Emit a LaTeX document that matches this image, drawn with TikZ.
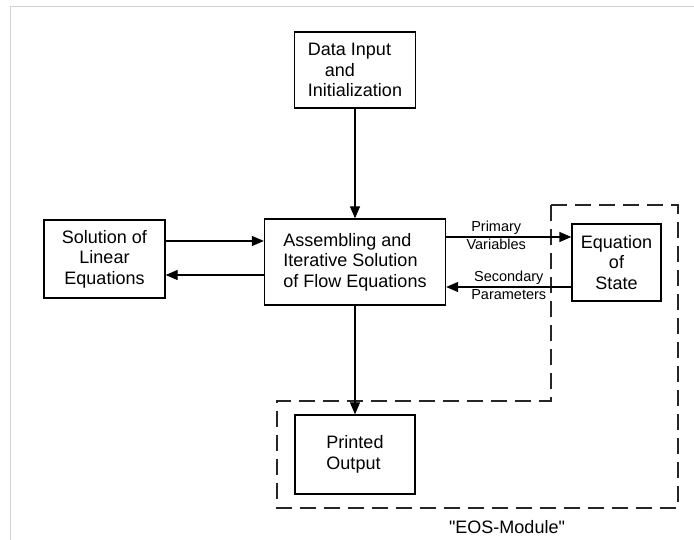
\documentclass[tikz,border=0pt]{standalone}
\usepackage{fontspec}
\setmainfont{Liberation Sans}
\newfontfamily\plainfont{Liberation Sans}
\usetikzlibrary{arrows.meta}

\tikzset{
  block/.style={draw, line width=1.3pt, inner sep=0pt, font=\fontsize{18}{20.5}\selectfont},
  flow/.style={-{Triangle[length=12pt,width=10pt]}, line width=1.3pt},
  small/.style={font=\fontsize{14.5}{16}\selectfont, inner sep=1.5pt},
  eosline/.style={dash pattern=on 16pt off 8pt, line width=1.6pt, black!85}
}

\begin{document}
\begin{tikzpicture}[x=1pt, y=1pt]
  \useasboundingbox (0,0) rectangle (694,540);
  % page frame
  \draw[gray!35, line width=1pt] (10,0) -- (10,533) -- (694,533);

  % Blocks
  \node[block, align=left, minimum width=121pt, minimum height=76pt] (data) at (355,470) {Data Input\\\hspace*{17pt}and\\Initialization};
  \node[block, align=center, minimum width=121pt, minimum height=78pt] (lin) at (104.5,281) {Solution of\\Linear\\Equations};
  \node[block, align=left, minimum width=181pt, minimum height=86pt] (asm) at (355,278) {Assembling and\\Iterative Solution\\of Flow Equations};
  \node[block, align=center, minimum width=89pt, minimum height=77pt] (eos) at (616.5,277.5) {Equation\\of\\State};
  \node[block, align=left, minimum width=120pt, minimum height=79pt] (out) at (355,85.5) {Printed\\Output};

  % EOS-Module boundary
  \draw[eosline] (551,335) -- (678,335) -- (678,32) -- (277,32) -- (277,139) -- (551,139) -- cycle;
  \node[font=\plainfont\fontsize{18}{20}\selectfont] (eostitle) at (507,13) {"EOS-Module"};

  % Connectors
  \draw[flow] (data) -- (asm);
  \draw[flow] (asm) -- (out);
  \draw[flow] ([yshift=18pt]lin.east) -- ([yshift=18pt]lin.east -| asm.west);
  \draw[flow] ([yshift=-16pt]lin.east -| asm.west) -- ([yshift=-16pt]lin.east);
  \draw[flow] ([yshift=25pt]asm.east) -- ([yshift=25pt]asm.east -| eos.west)
    node[small, pos=0.4, above] (prim) {Primary}
    node[small, pos=0.4, below] (vars) {Variables};
  \draw[flow] ([yshift=-25pt]asm.east -| eos.west) -- ([yshift=-25pt]asm.east)
    node[small, midway, above] (sec) {Secondary}
    node[small, midway, below] (par) {Parameters};
\end{tikzpicture}
\end{document}
